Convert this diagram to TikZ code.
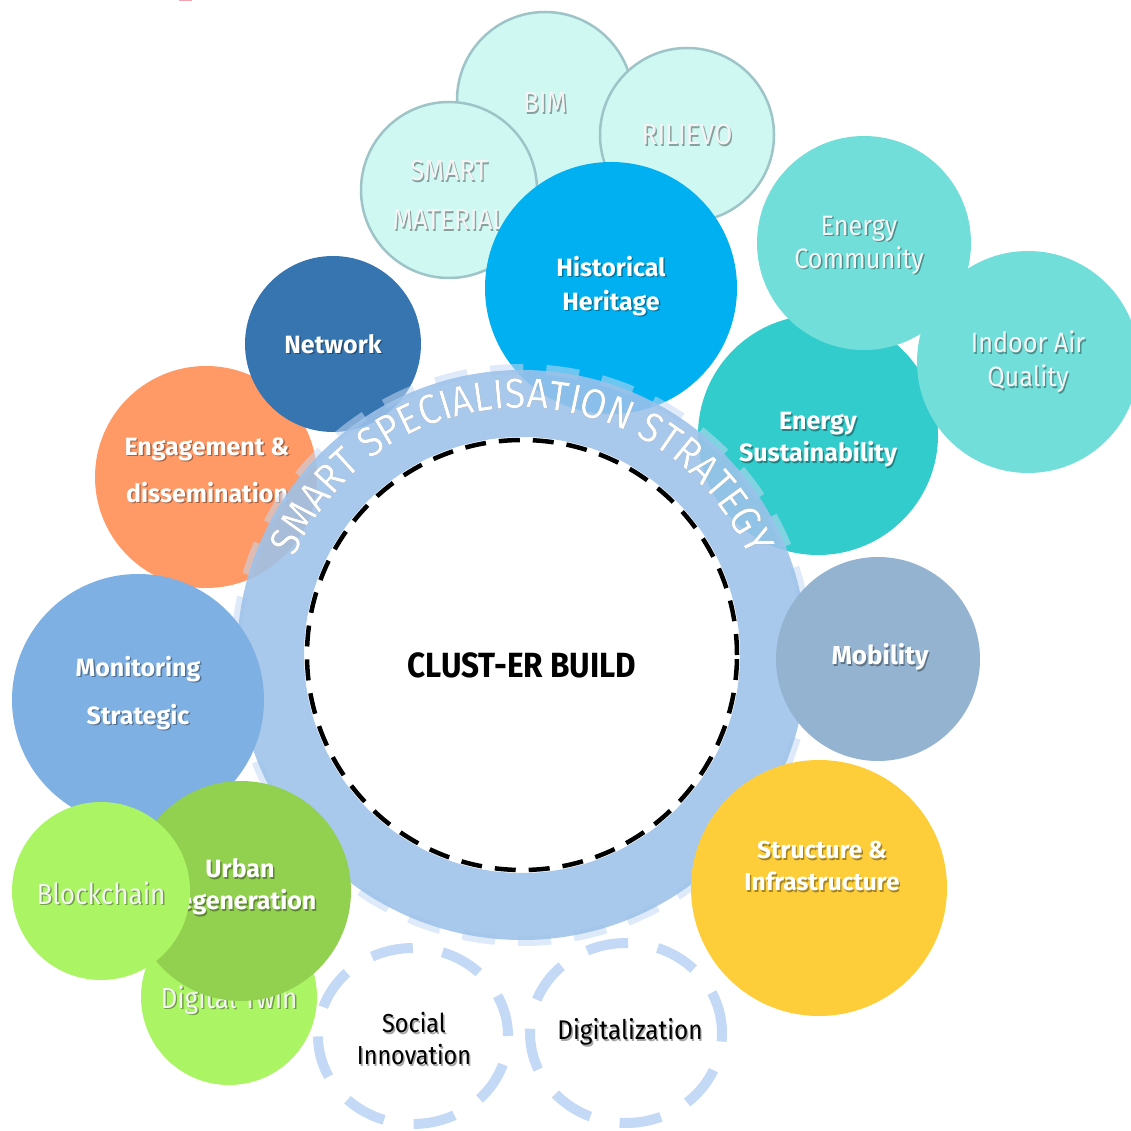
\documentclass[tikz,border=0pt]{standalone}
\usepackage{fontspec}
\setmainfont{Fira Sans}[FakeStretch=0.9]
\newfontfamily\labelfamily{Fira Sans}
\usetikzlibrary{decorations.text,shapes.geometric}

\definecolor{heritage}{HTML}{00B0F0}
\definecolor{mintfill}{HTML}{CFF8F3}
\definecolor{mintline}{HTML}{9EC4C8}
\definecolor{aquaball}{HTML}{72DED9}
\definecolor{tealball}{HTML}{33CCCC}
\definecolor{netball}{HTML}{3675B0}
\definecolor{engball}{HTML}{FF9966}
\definecolor{monball}{HTML}{7EB0E3}
\definecolor{urbball}{HTML}{92D050}
\definecolor{limeball}{HTML}{ABF564}
\definecolor{mobball}{HTML}{94B3D1}
\definecolor{strball}{HTML}{FECE3A}
\definecolor{ringblue}{HTML}{9DC2EA}
\definecolor{dashblue}{HTML}{C3D9F5}
\definecolor{lighttext}{HTML}{F4F4F4}
\definecolor{markpink}{HTML}{F3A3AE}

% label with a soft drop shadow: name, position, style, text
\newcommand\shadowlabel[4]{%
  \node[#3, text=black, opacity=0.35, xshift=1.4pt, yshift=-1.6pt] (#1-s) at (#2) {#4};
  \node[#3] (#1) at (#2) {#4};}

\newcommand\arcfont{\fontsize{42}{42}\selectfont}
\newcommand\boldsize[2]{\labelfamily\bfseries\fontsize{#1}{#2}\selectfont}

\begin{document}
\begin{tikzpicture}[x=1pt,y=1pt,
  ball/.style={circle, inner sep=0pt, fill=#1},
  mintball/.style={circle, inner sep=0pt, fill=mintfill, draw=mintline, line width=2.5pt},
  ghost/.style={ellipse, inner sep=0pt, draw=dashblue, line width=10pt,
    dash pattern=on 42pt off 30pt},
  boldlbl/.style={inner sep=0pt, align=center, text=white,
    font=\boldsize{25}{33}},
  lightlbl/.style={inner sep=0pt, align=center, text=lighttext,
    font=\fontsize{29}{33}\selectfont},
  darklbl/.style={inner sep=0pt, align=center, text=black,
    font=\fontsize{26}{32}\selectfont},
]
\clip (0,0) rectangle (1131,1130);
\fill[white] (0,0) rectangle (1131,1130);
\fill[markpink] (179,1128.5) rectangle (192,1130);

\coordinate (c) at (522,475);

% heritage cluster
\node[mintball, minimum size=176] (bim) at (545,1030) {};
\node[mintball, minimum size=174] (ril) at (687,995) {};
\node[mintball, minimum size=176] (sm) at (449,940) {};
\shadowlabel{bimt}{545,1027}{lightlbl}{BIM}
\shadowlabel{rilt}{687,995}{lightlbl}{RILIEVO}
\shadowlabel{smt}{449,935}{lightlbl, font=\fontsize{29}{49}\selectfont}{SMART\\MATERIAL}
\node[ball=heritage, minimum size=252] (hh) at (611,842) {};
\shadowlabel{hht}{611,844}{boldlbl, font=\boldsize{25}{34}}{Historical\\Heritage}

% left back circles
\node[ball=engball, minimum size=222] (eng) at (206,653) {};
\shadowlabel{engt}{207,660}{boldlbl, font=\boldsize{25}{47}}{Engagement \&\\dissemination}
\node[ball=netball, minimum size=176] (net) at (333,786) {};
\shadowlabel{nett}{333,786}{boldlbl}{Network}

% energy cluster
\node[ball=tealball, minimum size=240] (es) at (818,695) {};
\shadowlabel{est}{818,690}{boldlbl, font=\boldsize{25}{32}}{Energy\\Sustainability}
\node[ball=aquaball, minimum size=214] (ec) at (864,887) {};
\node[ball=aquaball, minimum size=222] (iaq) at (1028,768) {};
\shadowlabel{ect}{859,885}{lightlbl, font=\fontsize{28}{33}\selectfont}{Energy\\Community}
\shadowlabel{iaqt}{1028,768}{lightlbl, font=\fontsize{28}{34}\selectfont}{Indoor Air\\Quality}

% strategy ring
\draw[dashblue, line width=10pt, dash pattern=on 33pt off 23pt, opacity=0.55] (c) circle[radius=286];
\fill[ringblue, opacity=0.88, even odd rule] (c) circle[radius=285] (c) circle[radius=218];
\node[circle, inner sep=0pt, minimum size=430, draw=black, line width=4.5pt,
  dash pattern=on 21pt off 13pt] (core) at (c) {};
\node[inner sep=0pt, font=\bfseries\fontsize{35}{35}\selectfont] (title) at (522,465) {CLUST-ER BUILD};

\begin{scope}[opacity=0.45, shift={(1.5,-1.8)}]
\path[decorate, decoration={text along path, text color=black,
  text={|\arcfont|SMART SPECIALISATION STRATEGY}, text align=center}]
  (c) ++(165:247) arc[start angle=165, end angle=15, radius=247];
\end{scope}
\path[decorate, decoration={text along path, text color=white,
  text={|\arcfont|SMART SPECIALISATION STRATEGY}, text align=center}]
  (c) ++(165:247) arc[start angle=165, end angle=15, radius=247];

% front circles
\node[ball=monball, minimum size=252] (mon) at (138,430) {};
\shadowlabel{mont}{138,437}{boldlbl, font=\boldsize{25}{48}}{Monitoring\\Strategic}
\node[ball=mobball, minimum size=204] (mob) at (878,471) {};
\shadowlabel{mobt}{880,473}{boldlbl, font=\boldsize{26}{33}}{Mobility}
\node[ball=strball, minimum size=256] (str) at (819,242) {};
\shadowlabel{strt}{822,264}{boldlbl, font=\boldsize{24.5}{32}}{Structure \&\\Infrastructure}

\node[ball=limeball, minimum size=176] (dt) at (229,133) {};
\shadowlabel{dtt}{229,130}{lightlbl, font=\fontsize{29}{33}\selectfont}{Digital Twin}
\node[ball=urbball, minimum size=220] (urb) at (241,239) {};
\shadowlabel{urbt}{240,243}{boldlbl, font=\boldsize{25}{32}}{Urban\\Regeneration}
\node[ball=limeball, minimum size=178] (blk) at (101,239) {};
\shadowlabel{blkt}{101,237}{lightlbl, font=\fontsize{29}{33}\selectfont}{Blockchain}

% outlined themes
\node[ghost, minimum width=190, minimum height=176] (soc) at (413,94) {};
\shadowlabel{soct}{414,91}{darklbl}{Social\\Innovation}
\node[ghost, minimum width=192, minimum height=180] (dig) at (626,97) {};
\shadowlabel{digt}{630,98}{darklbl, font=\fontsize{27}{32}\selectfont}{Digitalization}
\end{tikzpicture}
\end{document}
